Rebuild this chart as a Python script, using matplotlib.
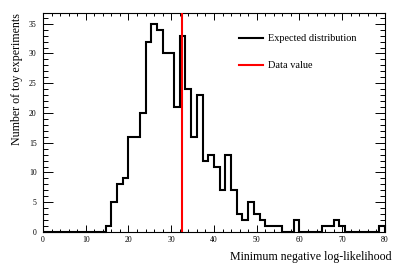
import numpy as np
import matplotlib
matplotlib.use("Agg")
import matplotlib.pyplot as plt
from matplotlib.ticker import MultipleLocator

plt.rcParams['font.family'] = ['Liberation Serif', 'DejaVu Serif']

# Data
x_min, x_max, n_bins = 0, 80, 60
counts = [0] * 11 + [1, 5, 8, 9, 16, 16, 20, 32, 35, 34,
                     30, 30, 21, 33, 24, 16, 23, 12, 13, 11,
                     7, 13, 7, 3, 2, 5, 3, 2, 1, 1,
                     1, 0, 0, 2, 0, 0, 0, 0, 1, 1,
                     2, 1, 0, 0, 0, 0, 0, 0, 1]
data_value = 32.6
x_label = "Minimum negative log-likelihood"
y_label = "Number of toy experiments"
legend_labels = ["Expected distribution", "Data value"]

edges = np.linspace(x_min, x_max, n_bins + 1)

fig = plt.figure(figsize=(4.02, 2.73), dpi=100)
ax = fig.add_axes([43 / 402, 1 - 232 / 273, (385 - 43) / 402, (232 - 13.3) / 273])

h = ax.stairs(counts, edges, baseline=0, fill=False, color='black', linewidth=1.5,
              clip_on=False, zorder=3, label=legend_labels[0])
ymax = 1.05 * max(counts)
ax.set_xlim(x_min, x_max)
ax.set_ylim(0, ymax)
l, = ax.plot([data_value, data_value], [0, ymax], color='red', linewidth=1.5,
             label=legend_labels[1], zorder=4)

ax.xaxis.set_major_locator(MultipleLocator(10))
ax.xaxis.set_minor_locator(MultipleLocator(2))
ax.yaxis.set_major_locator(MultipleLocator(5))
ax.yaxis.set_minor_locator(MultipleLocator(1))
ax.tick_params(which='both', direction='in', top=True, right=True, width=0.7,
               labelsize=5.6, colors='black')
ax.tick_params(axis='x', which='major', length=4.8, pad=3)
ax.tick_params(axis='x', which='minor', length=2.4)
ax.tick_params(axis='y', which='major', length=7.2, pad=4.5)
ax.tick_params(axis='y', which='minor', length=3.6)
for s in ax.spines.values():
    s.set_linewidth(0.8)

ax.set_xlabel(x_label, fontsize=8.6, ha='right', x=1.0)
ax.set_ylabel(y_label, fontsize=8.6, ha='right', y=1.0)
ax.xaxis.set_label_coords(1.02, -0.085)
ax.yaxis.set_label_coords(-0.058, 1.0)

leg = ax.legend(handles=[h, l], loc='upper left', bbox_to_anchor=(0.573, 0.905),
                frameon=False, fontsize=7.4, handlelength=2.3, handletextpad=0.5,
                labelspacing=1.72, borderpad=0, borderaxespad=0)
leg.legend_handles[0].set_linewidth(1.5)

fig.savefig("out.png", dpi=100)
